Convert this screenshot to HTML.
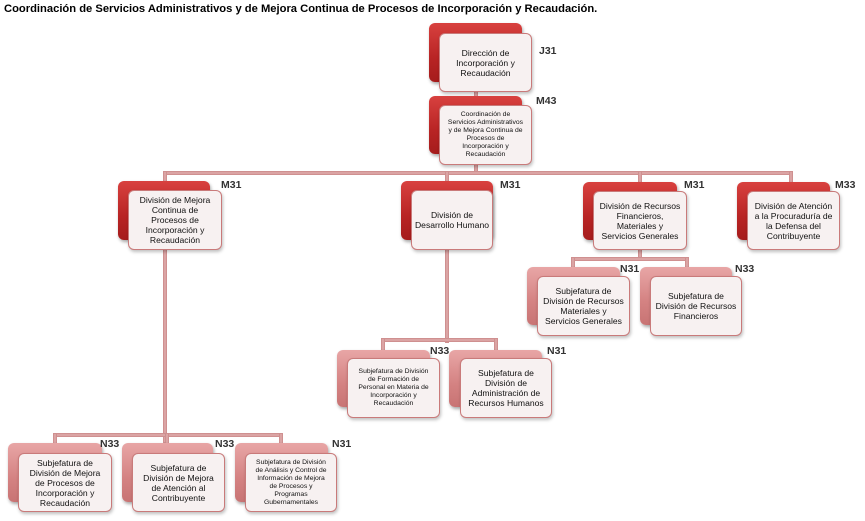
<!DOCTYPE html>
<html><head><meta charset="utf-8"><style>
body{margin:0;width:865px;height:521px;background:#fff;position:relative;overflow:hidden;font-family:"Liberation Sans",sans-serif}
.t{position:absolute;left:4px;top:3px;font-size:11.2px;font-weight:bold;color:#000}
.b{position:absolute;border-radius:6px;background:linear-gradient(#d8413f,#b82424 60%,#a51c1c);box-shadow:1px 2px 3px rgba(0,0,0,.35)}
.b.p{background:linear-gradient(#e8a6a6,#d48282 60%,#c87474)}
.f{position:absolute;border-radius:6px;background:#f7f1f1;border:1px solid #c97a7a;box-shadow:1px 2px 3px rgba(0,0,0,.25);display:flex;align-items:center;justify-content:center;text-align:center;font-size:8.6px;line-height:10px;color:#111;box-sizing:border-box;padding:0;white-space:nowrap}
.f.s{font-size:6.8px;line-height:8px}
.l{position:absolute;font-weight:bold;font-size:10.5px;color:#333}
.h,.v{position:absolute;background:#dba4a4;border:1px solid #cf9090;box-sizing:border-box}
.h{height:4px}.v{width:4px}
</style></head><body>
<div class="t">Coordinación de Servicios Administrativos y de Mejora Continua de Procesos de Incorporación y Recaudación.</div>

<div class="v" style="left:474px;top:85px;height:90px"></div>
<div class="h" style="left:163px;top:171px;width:630px"></div>
<div class="v" style="left:163px;top:171px;height:272px"></div>
<div class="v" style="left:445px;top:171px;height:172px"></div>
<div class="v" style="left:638px;top:171px;height:90px"></div>
<div class="v" style="left:789px;top:171px;height:14px"></div>
<div class="h" style="left:571px;top:257px;width:118px"></div>
<div class="v" style="left:571px;top:257px;height:14px"></div>
<div class="v" style="left:685px;top:257px;height:14px"></div>
<div class="h" style="left:381px;top:338px;width:117px"></div>
<div class="v" style="left:381px;top:338px;height:14px"></div>
<div class="v" style="left:494px;top:338px;height:14px"></div>
<div class="h" style="left:53px;top:433px;width:230px"></div>
<div class="v" style="left:53px;top:433px;height:14px"></div>
<div class="v" style="left:165px;top:433px;height:14px"></div>
<div class="v" style="left:279px;top:433px;height:14px"></div>

<div class="b" style="left:429px;top:23px;width:93px;height:59px"></div>
<div class="f" style="left:439px;top:33px;width:93px;height:59px">Dirección de<br>Incorporación y<br>Recaudación</div>
<div class="l" style="left:539px;top:45px">J31</div>
<div class="b" style="left:429px;top:96px;width:93px;height:58px"></div>
<div class="f s" style="left:439px;top:105px;width:93px;height:60px">Coordinación de<br>Servicios Administrativos<br>y de Mejora Continua de<br>Procesos de<br>Incorporación y<br>Recaudación</div>
<div class="l" style="left:536px;top:95px">M43</div>

<div class="b" style="left:118px;top:181px;width:92px;height:59px"></div>
<div class="f" style="left:128px;top:190px;width:94px;height:60px">División de Mejora<br>Continua de<br>Procesos de<br>Incorporación y<br>Recaudación</div>
<div class="l" style="left:221px;top:179px">M31</div>

<div class="b" style="left:401px;top:181px;width:92px;height:59px"></div>
<div class="f" style="left:411px;top:190px;width:82px;height:60px">División de<br>Desarrollo Humano</div>
<div class="l" style="left:500px;top:179px">M31</div>

<div class="b" style="left:583px;top:182px;width:94px;height:58px"></div>
<div class="f" style="left:593px;top:191px;width:94px;height:59px">División de Recursos<br>Financieros,<br>Materiales y<br>Servicios Generales</div>
<div class="l" style="left:684px;top:179px">M31</div>

<div class="b" style="left:737px;top:182px;width:93px;height:58px"></div>
<div class="f" style="left:747px;top:191px;width:93px;height:59px">División de Atención<br>a la Procuraduría de<br>la Defensa del<br>Contribuyente</div>
<div class="l" style="left:835px;top:179px">M33</div>

<div class="b p" style="left:527px;top:267px;width:93px;height:58px"></div>
<div class="f" style="left:537px;top:276px;width:93px;height:60px">Subjefatura de<br>División de Recursos<br>Materiales y<br>Servicios Generales</div>
<div class="l" style="left:620px;top:263px">N31</div>
<div class="b p" style="left:640px;top:267px;width:92px;height:58px"></div>
<div class="f" style="left:650px;top:276px;width:92px;height:60px">Subjefatura de<br>División de Recursos<br>Financieros</div>
<div class="l" style="left:735px;top:263px">N33</div>

<div class="b p" style="left:337px;top:350px;width:93px;height:57px"></div>
<div class="f s" style="left:347px;top:358px;width:93px;height:60px">Subjefatura de División<br>de Formación de<br>Personal en Materia de<br>Incorporación y<br>Recaudación</div>
<div class="l" style="left:430px;top:345px">N33</div>
<div class="b p" style="left:449px;top:350px;width:93px;height:57px"></div>
<div class="f" style="left:460px;top:358px;width:92px;height:60px">Subjefatura de<br>División de<br>Administración de<br>Recursos Humanos</div>
<div class="l" style="left:547px;top:345px">N31</div>

<div class="b p" style="left:8px;top:443px;width:94px;height:59px"></div>
<div class="f" style="left:18px;top:453px;width:94px;height:59px">Subjefatura de<br>División de Mejora<br>de Procesos de<br>Incorporación y<br>Recaudación</div>
<div class="l" style="left:100px;top:438px">N33</div>
<div class="b p" style="left:122px;top:443px;width:91px;height:59px"></div>
<div class="f" style="left:132px;top:453px;width:93px;height:59px">Subjefatura de<br>División de Mejora<br>de Atención al<br>Contribuyente</div>
<div class="l" style="left:215px;top:438px">N33</div>
<div class="b p" style="left:235px;top:443px;width:93px;height:59px"></div>
<div class="f s" style="left:245px;top:453px;width:92px;height:59px">Subjefatura de División<br>de Análisis y Control de<br>Información de Mejora<br>de Procesos y<br>Programas<br>Gubernamentales</div>
<div class="l" style="left:332px;top:438px">N31</div>
</body></html>
